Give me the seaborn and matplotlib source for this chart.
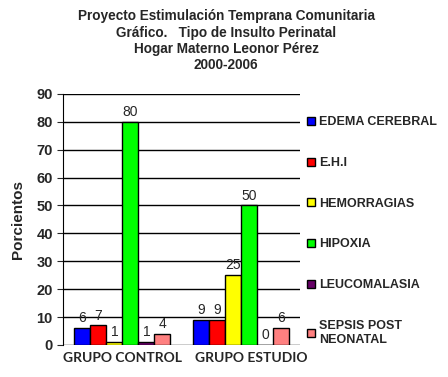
import matplotlib
matplotlib.use("Agg")
import matplotlib.pyplot as plt
import matplotlib.transforms as mtransforms
import seaborn as sns
import pandas as pd

grupos = ["GRUPO CONTROL", "GRUPO ESTUDIO"]
insultos = ["EDEMA CEREBRAL", "E.H.I", "HEMORRAGIAS", "HIPOXIA", "LEUCOMALASIA", "SEPSIS POST\nNEONATAL"]
control = [6, 7, 1, 80, 1, 4]
estudio = [9, 9, 25, 50, 0, 6]
colores = ["#0000FF", "#FF0000", "#FFFF00", "#00FF00", "#660066", "#FF8080"]

df = pd.DataFrame({
    "grupo": [grupos[0]] * 6 + [grupos[1]] * 6,
    "insulto": insultos * 2,
    "valor": control + estudio,
})

sns.set_style("white")
plt.rcParams["font.family"] = ["Liberation Sans", "DejaVu Sans"]

fig = plt.figure(figsize=(4.48, 3.77), dpi=100)
ax = fig.add_axes([0.141, 0.085, 0.529, 0.666])

sns.barplot(data=df, x="grupo", y="valor", hue="insulto", palette=colores, saturation=1,
            width=0.81, edgecolor="black", linewidth=1, ax=ax, legend=True)

for c in ax.containers:
    ax.bar_label(c, padding=2, fontsize=10)

ax.set_ylim(0, 90)
ax.set_yticks(range(0, 91, 10))
ax.yaxis.grid(True, color="black", linewidth=1)
ax.set_axisbelow(True)
for s in ["top", "right", "bottom"]:
    ax.spines[s].set_visible(False)
ax.spines["left"].set_color("black")
ax.tick_params(axis="y", length=4, direction="out", left=True, labelsize=10.5)
ax.tick_params(axis="x", length=0, pad=5)
for t in ax.get_yticklabels():
    t.set_fontweight("bold")
ax.set_xticklabels(grupos, fontfamily=["Lato", "DejaVu Sans"], fontweight="bold", fontsize=10)
# the second group label sits a little to the right in the original
lbl = ax.get_xticklabels()[1]
lbl.set_transform(lbl.get_transform() + mtransforms.ScaledTranslation(0.1, 0, fig.dpi_scale_trans))
ax.set_xlabel("")
ax.set_ylabel("Porcientos", fontweight="bold", fontsize=11, labelpad=8)

h, l = ax.get_legend_handles_labels()
ax.get_legend().remove()
fig.legend(h, l, loc="upper left", bbox_to_anchor=(0.675, 0.705), frameon=False,
           prop={"weight": "bold", "size": 9}, labelspacing=2.3,
           handlelength=0.6, handleheight=0.6, handletextpad=0.3, borderaxespad=0)

fig.text(0.505, 0.975, "Proyecto Estimulación Temprana Comunitaria\nGráfico.   Tipo de Insulto Perinatal\nHogar Materno Leonor Pérez\n2000-2006",
         ha="center", va="top", fontsize=9.8, fontweight="bold", linespacing=1.2)

fig.savefig("out.png", dpi=100)
